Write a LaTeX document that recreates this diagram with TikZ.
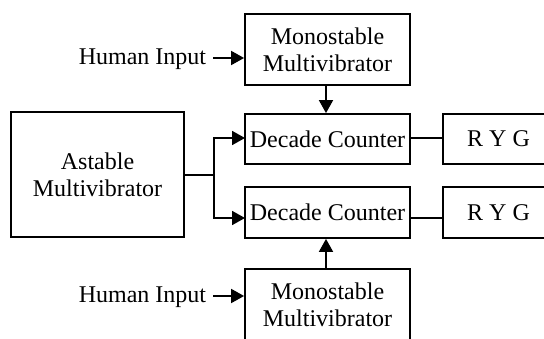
\documentclass[tikz,border=0pt]{standalone}
\usepackage{fontspec}
\setmainfont{Liberation Serif}
\usetikzlibrary{arrows.meta}
\begin{document}
\begin{tikzpicture}[x=1pt,y=-1pt,
  font=\fontsize{24}{27}\selectfont,
  line width=1.8pt,
  block/.style={draw, align=center, inner sep=0pt},
  arr/.style={-{Triangle[length=13pt,width=14pt]}},
  label/.style={inner sep=0pt, anchor=base east}]
\useasboundingbox (0,0) rectangle (544,339);
\clip (0,0) rectangle (544,339);

% blocks (centres in pt, y downwards)
\node[block, minimum width=165pt, minimum height=71pt] (mono1) at (327.5,49.5) {Monostable\\Multivibrator};
\node[block, minimum width=173pt, minimum height=125pt] (ast) at (97.5,174.5) {Astable\\Multivibrator};
\node[block, minimum width=165pt, minimum height=50pt] (dc1) at (327.5,139) {Decade Counter};
\node[block, minimum width=165pt, minimum height=51pt] (dc2) at (327.5,212.5) {Decade Counter};
\node[block, minimum width=111pt, minimum height=50pt] (ryg1) at (498.5,139) {R Y G};
\node[block, minimum width=111pt, minimum height=51pt] (ryg2) at (498.5,212.5) {R Y G};
\node[block, minimum width=165pt, minimum height=72pt] (mono2) at (327.5,305) {Monostable\\Multivibrator};

% inputs
\node[label] (hi1) at (207,65) {Human Input};
\node[label] (hi2) at (207,303) {Human Input};
\coordinate (a1) at (213,58);
\coordinate (a2) at (213,296);
\draw[arr] (a1) -- (a1 -| mono1.west);
\draw[arr] (a2) -- (a2 -| mono2.west);

% monostable triggers
\draw[arr] (326,85) coordinate (m1) -- (m1 |- dc1.north);
\draw[arr] (326,269) coordinate (m2) -- (m2 |- dc2.south);

% clock distribution
\coordinate (j) at (214,175);
\coordinate (t1) at (245,138);
\coordinate (t2) at (245,218);
\draw (ast.east |- j) -- (j);
\draw[arr] (j) |- (t1);
\draw[arr] (j) |- (t2);

% counter outputs
\draw (dc1.east |- t1) -- (ryg1.west |- t1);
\draw (dc2.east |- t2) -- (ryg2.west |- t2);
\end{tikzpicture}
\end{document}
